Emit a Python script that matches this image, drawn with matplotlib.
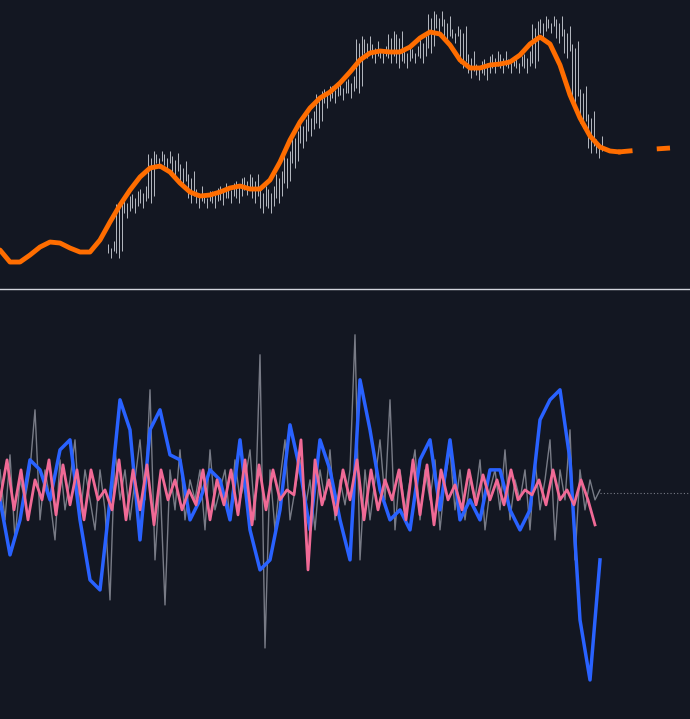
import numpy as np
import matplotlib
matplotlib.use("Agg")
import matplotlib.pyplot as plt

BG = "#131722"

# top panel: smoothed line (sampled every 10 px), price closes (every 8 px)
smooth_x = list(range(0, 630, 10))
smooth_y = [250, 262, 262, 255, 247, 242, 243, 248, 252, 252, 240, 222, 205, 190, 177, 168,
            166, 172, 183, 192, 196, 195, 192, 188, 186, 189, 189, 180, 162, 140, 122, 108,
            98, 92, 83, 72, 60, 53, 51, 52, 52, 47, 38, 32, 34, 45, 60, 68, 68, 65, 64, 62,
            55, 44, 37, 44, 65, 95, 118, 136, 147, 151, 152]
proj_x = [618, 640, 655, 670]
proj_y = [152, 150, 149, 148]
close_x = list(range(108, 604, 8))
close_y = [250, 210, 205, 200, 195, 160, 160, 162, 170, 180, 195, 200, 200, 197, 192, 195,
           187, 183, 195, 205, 195, 180, 160, 140, 128, 120, 100, 95, 92, 90, 85, 45, 50,
           55, 55, 40, 60, 55, 55, 45, 20, 25, 35, 35, 60, 70, 72, 65, 60, 65, 65, 65, 60,
           30, 25, 25, 35, 50, 95, 120, 145, 150]

# bottom panel
blue_x = list(range(0, 610, 10))
blue_y = [500, 555, 520, 460, 470, 500, 450, 440, 520, 580, 590, 500, 400, 430, 540, 430,
          410, 455, 460, 520, 500, 470, 480, 520, 440, 530, 570, 560, 510, 425, 470, 530,
          440, 470, 520, 560, 380, 430, 490, 520, 510, 530, 460, 440, 510, 440, 520, 500,
          520, 470, 470, 510, 530, 510, 420, 400, 390, 460, 620, 680, 560]
grey_y = [470, 520, 455, 540, 480, 500, 470, 410, 520, 470, 500, 540, 460, 510, 480, 440, 520, 470, 500, 530,
          470, 510, 600, 450, 500, 470, 520, 480, 440, 500, 390, 560, 480, 605, 470, 510, 450, 520, 480, 500,
          470, 530, 450, 510, 490, 470, 520, 460, 500, 480, 450, 520, 355, 648, 470, 530, 480, 440, 520, 490,
          460, 510, 480, 530, 470, 500, 450, 520, 480, 505, 470, 335, 560, 470, 520, 480, 440, 500, 400, 530,
          470, 510, 480, 450, 520, 470, 500, 460, 530, 480, 450, 510, 470, 520, 480, 500, 460, 530, 490, 470,
          510, 450, 520, 480, 500, 470, 530, 460, 510, 480, 440, 540, 470, 500, 430, 560, 470, 510, 480, 500, 490]
grey_x = list(range(0, 605, 5))
pink_y = [500, 460, 510, 470, 520, 480, 500, 460, 515, 465, 505, 470, 520, 470, 500, 490, 510, 460, 520, 470,
          510, 465, 525, 470, 500, 480, 510, 490, 505, 470, 520, 480, 505, 470, 515, 460, 525, 465, 510, 470,
          500, 490, 495, 440, 570, 460, 505, 480, 515, 470, 500, 460, 520, 470, 510, 480, 500, 470, 520, 460,
          515, 465, 525, 470, 500, 485, 510, 470, 505, 475, 500, 480, 505, 470, 500, 490, 495, 480, 505, 470,
          500, 490, 505, 480, 500, 525]
pink_x = list(range(0, 600, 7))
zero_level = 493

fig = plt.figure(figsize=(6.9, 7.19), dpi=100, facecolor=BG)
ax1 = fig.add_axes([0, 0.5994, 1, 0.4006])
ax2 = fig.add_axes([0, 0, 1, 0.597])
for ax in (ax1, ax2):
    ax.set_facecolor(BG)
    ax.set_xlim(0, 690)
    ax.axis("off")
ax1.set_ylim(288, 0)
ax2.set_ylim(719, 290)

# price bars: thin wicks spanning the move between consecutive closes
prev = close_y[0]
for x, c in zip(close_x, close_y):
    lo, hi = min(prev, c), max(prev, c)
    for dx, (a, b) in zip((0, 3, 6), ((-6, 3), (-2, 8), (-9, 1))):
        ax1.vlines(x + dx, lo + a, hi + b, color="#d1d4dc", lw=0.6)
    prev = c
ax1.plot(smooth_x, smooth_y, color="#ff6d00", lw=3.5, solid_capstyle="round",
         solid_joinstyle="round")
ax1.plot(proj_x, proj_y, color="#ff6d00", lw=3.5, dashes=(3, 5))

ax2.plot(grey_x, grey_y, color="#787b86", lw=1.0)
ax2.plot(blue_x, blue_y, color="#2962ff", lw=2.5, solid_joinstyle="round")
ax2.plot(pink_x, pink_y, color="#f06a96", lw=2.0, solid_joinstyle="round")
ax2.hlines(zero_level, 600, 690, color="#787b86", lw=0.8, linestyles=(0, (1, 2)))

fig.add_artist(plt.Line2D([0, 1], [0.598, 0.598], color="#d1d4dc", lw=1))
fig.savefig("out.png", dpi=100, facecolor=BG)
